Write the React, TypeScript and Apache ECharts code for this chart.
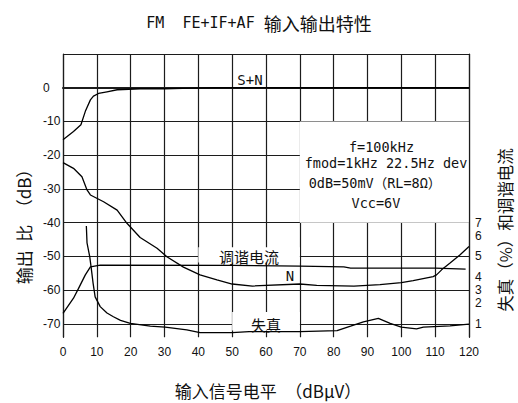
import React, { useEffect, useRef } from 'react';
import * as echarts from 'echarts';

// ---- data ----
const xTicks = [0, 10, 20, 30, 40, 50, 60, 70, 80, 90, 100, 110, 120];
const yTicks = [-70, -60, -50, -40, -30, -20, -10, 0];
const yGrid = [-70, -60, -50, -40, -30, -20, -10, 0, 10];
// right axis (distortion %) labels, placed at their drawn heights (in dB units of left scale)
const rightTickPos = [-70, -63.8, -60, -56.1, -50, -44, -40];
const rightTickLabels = ['1', '2', '3', '4', '5', '6', '7'];

const snCurve = [
  [0, -15.4], [3.1, -13], [5.3, -11], [6.6, -7], [8.1, -3.6], [9, -2.5], [10.5, -1.7],
  [13, -1.2], [16, -0.6], [22.8, -0.3], [30, -0.3], [38, -0.1], [45, 0], [120, 0],
];
const noiseCurve = [
  [0, -22.2], [3.1, -23.9], [5.6, -26.4], [7.1, -30.3], [8.1, -31.8], [12, -33.8], [16, -36.3],
  [18.9, -40.2], [22.8, -44.4], [27.8, -47.6], [30.7, -50.1], [35.6, -53.2], [40.5, -55.5],
  [45.5, -57], [50, -58.2], [56, -58.8], [70, -58.2], [75, -58.6], [86, -58.8], [93.7, -58.4],
  [100, -57.8], [103.5, -57.2], [109.4, -56], [110.4, -55.5], [111.9, -54], [114.4, -52],
  [117.3, -49.6], [120, -47.1],
];
const tuningCurrent = [
  [0, -66.9], [3.1, -62.4], [4.6, -59.5], [6.6, -55.5], [8.1, -53.1], [11, -52.6], [50, -52.7],
  [70, -52.9], [83, -53.1], [85, -53.5], [110, -53.5], [119, -53.8],
];
const distortion = [
  [6.9, -41], [7.1, -46], [7.9, -50.1], [8.3, -53.1], [8.9, -58], [9.5, -62], [11, -64.9],
  [13, -66.8], [14.9, -67.9], [17, -69], [19.9, -69.9], [25.8, -70.7], [30.2, -71], [36.6, -71.8],
  [40.5, -72.6], [50, -72.6], [55, -72.3], [70, -72.3], [81, -72], [85, -70.7], [88.8, -69.4],
  [93.2, -68.4], [96.7, -69.9], [100, -71], [104.5, -71.5], [106.5, -71], [114.4, -70.6], [120, -70.1],
];

const LINE = '#1c1c1c';
const INK = '#111';
const numFont = '"Liberation Sans", Arial, sans-serif';
const monoFont = '"DejaVu Sans Mono", "Noto Sans CJK SC", monospace';
const cjkFont = '"Noto Sans CJK SC", sans-serif';

const curveStyle = { color: '#000', width: 1.3 };

function buildOption() {
  const mkLine = (name: string, data: number[][]) => ({
    name,
    type: 'line',
    data,
    symbol: 'none',
    lineStyle: curveStyle,
    silent: true,
    z: 3,
  });
  const txt = (x: number, y: number, text: string, fontFamily: string, fontSize: number) => ({
    type: 'text', x, y, z: 10,
    style: { text, fontFamily, fontSize, fill: INK, align: 'center', verticalAlign: 'middle' },
  });
  return {
    animation: false,
    backgroundColor: '#fff',
    title: {
      text: '{a|FM  FE+IF+AF }{b|输入输出特性}',
      left: 'center',
      top: 9,
      textStyle: {
        fontWeight: 'normal',
        rich: {
          a: { fontFamily: monoFont, fontSize: 15, color: INK, fontWeight: 'normal' },
          b: { fontFamily: cjkFont, fontSize: 18, color: INK, fontWeight: 'normal' },
        },
      },
    },
    grid: { left: 63, top: 54, width: 406, height: 283.3 },
    xAxis: {
      type: 'value',
      min: 0,
      max: 120,
      interval: 10,
      axisLine: { show: true, lineStyle: { color: LINE, width: 2 } },
      axisTick: { show: false },
      axisLabel: { fontFamily: numFont, fontSize: 12, color: INK, margin: 9, customValues: xTicks },
      splitLine: { show: true, lineStyle: { color: LINE, width: 1.2 } },
    },
    yAxis: [
      {
        type: 'value',
        min: -74,
        max: 10,
        axisLine: { show: true, lineStyle: { color: LINE, width: 1.2 } },
        axisTick: { show: false, customValues: yGrid },
        axisLabel: {
          customValues: yTicks,
          align: 'left',
          margin: 20,
          fontFamily: numFont,
          fontSize: 12,
          color: INK,
        },
        splitLine: { show: true, lineStyle: { color: LINE, width: 1.2 } },
      },
      {
        type: 'value',
        position: 'right',
        min: -74,
        max: 10,
        z: 6,
        axisLine: { show: true, lineStyle: { color: LINE, width: 1.2 } },
        axisTick: { show: false, customValues: rightTickPos },
        axisLabel: {
          customValues: rightTickPos,
          margin: 6,
          fontFamily: numFont,
          fontSize: 12,
          color: INK,
          formatter: (v: number) => {
            const i = rightTickPos.findIndex((p) => Math.abs(p - v) < 1e-6);
            return i >= 0 ? rightTickLabels[i] : '';
          },
        },
        splitLine: { show: false },
      },
    ],
    graphic: [
      {
        type: 'text', x: 23, y: 222.5, rotation: Math.PI / 2, z: 10,
        style: { text: '输出\u2002比　（dB）', fontFamily: cjkFont, fontSize: 17, fill: INK, align: 'center', verticalAlign: 'middle' },
      },
      {
        type: 'text', x: 505, y: 230, rotation: Math.PI / 2, z: 10,
        style: { text: '失真（%）和调谐电流', fontFamily: cjkFont, fontSize: 16.5, fill: INK, align: 'center', verticalAlign: 'middle' },
      },
      txt(268, 390, '输入信号电平　（dBμV）', cjkFont, 17),
      txt(381.5, 146.7, 'f=100kHz', monoFont, 13.5),
      txt(386, 163.3, 'fmod=1kHz 22.5Hz dev', monoFont, 13.5),
      txt(375, 183.3, '0dB=50mV（RL=8Ω）', monoFont, 13.5),
      txt(376, 203.3, 'Vcc=6V', monoFont, 13.5),
      txt(250, 80, 'S+N', monoFont, 14),
      txt(290, 276, 'N', monoFont, 14),
      txt(249, 256, '调谐电流', cjkFont, 15),
      txt(266, 324, '失真', cjkFont, 15),
    ],
    series: [
      mkLine('S+N', snCurve),
      mkLine('N', noiseCurve),
      {
        ...mkLine('调谐电流', tuningCurrent),
        markArea: {
          silent: true,
          label: { show: false },
          itemStyle: { color: '#fff' },
          data: [
            [{ xAxis: 70, yAxis: -10 }, { xAxis: 120, yAxis: -40 }],
            [{ xAxis: 40, yAxis: -47.3 }, { xAxis: 70, yAxis: -51.8 }],
            [{ xAxis: 50, yAxis: -66.5 }, { xAxis: 70, yAxis: -72 }],
          ],
        },
      },
      mkLine('失真', distortion),
    ],
  };
}

export default function App() {
  const ref = useRef<HTMLDivElement>(null);
  useEffect(() => {
    const chart = echarts.init(ref.current!, null, { renderer: 'svg' });
    chart.setOption(buildOption() as any);
    return () => chart.dispose();
  }, []);
  return (
    <div
      ref={ref}
      style={{ position: 'absolute', left: 0, top: 0, width: 518, height: 403, background: '#fff' }}
    />
  );
}
